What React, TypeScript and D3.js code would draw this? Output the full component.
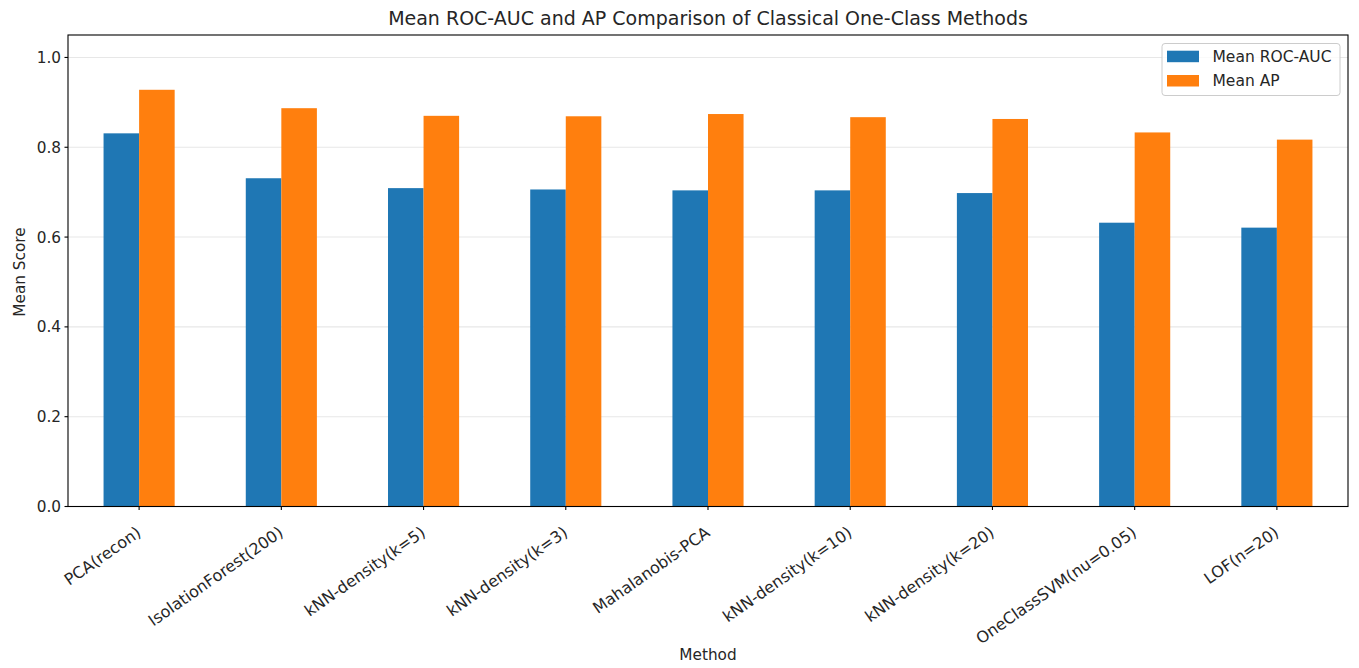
import React from "react";
import * as d3 from "d3";

const methods = [
  "PCA(recon)",
  "IsolationForest(200)",
  "kNN-density(k=5)",
  "kNN-density(k=3)",
  "Mahalanobis-PCA",
  "kNN-density(k=10)",
  "kNN-density(k=20)",
  "OneClassSVM(nu=0.05)",
  "LOF(n=20)",
];
const meanRocAuc = [0.831, 0.731, 0.709, 0.706, 0.704, 0.704, 0.698, 0.632, 0.621];
const meanAp = [0.928, 0.887, 0.870, 0.869, 0.874, 0.867, 0.863, 0.833, 0.817];
const yTicks = [0, 0.2, 0.4, 0.6, 0.8, 1.0];
const seriesNames = ["Mean ROC-AUC", "Mean AP"];
const seriesColors = ["#1f77b4", "#ff7f0e"];

const W = 1359;
const H = 668;
const left = 68;
const right = 1348;
const top = 35;
const bottom = 506.5;
const FONT = "'DejaVu Sans', sans-serif";
const TXT = "#262626";

export default function App() {
  const x = d3.scaleLinear().domain([-0.5, methods.length - 0.5]).range([left, right]);
  const y = d3.scaleLinear().domain([0, 1.05]).range([bottom, top]);
  const series = [meanRocAuc, meanAp];
  const bw = 0.25;

  return (
    <svg width={W} height={H} style={{ position: "absolute", left: 0, top: 0, background: "#fff" }} fontFamily={FONT}>
      <rect x={0} y={0} width={W} height={H} fill="#fff" />
      {/* grid */}
      {yTicks.map((t) => (
        <line key={"g" + t} x1={left} x2={right} y1={y(t)} y2={y(t)} stroke="#b0b0b0" strokeOpacity={0.3} strokeWidth={1.1} />
      ))}
      {/* bars */}
      {series.map((vals, si) =>
        vals.map((v, i) => {
          const x0 = x(i - bw + si * bw);
          const x1 = x(i + si * bw);
          return (
            <rect
              key={si + "-" + i}
              x={x0}
              y={y(v)}
              width={x1 - x0}
              height={y(0) - y(v)}
              fill={seriesColors[si]}
            />
          );
        })
      )}
      {/* spines */}
      <rect x={left} y={top} width={right - left} height={bottom - top} fill="none" stroke="#000" strokeWidth={1.1} />
      {/* y ticks */}
      {yTicks.map((t) => (
        <g key={"y" + t}>
          <line x1={left - 3.5} x2={left} y1={y(t)} y2={y(t)} stroke="#000" strokeWidth={1.1} />
          <text x={left - 7} y={y(t)} dy="0.36em" textAnchor="end" fontSize={15.3} fill={TXT}>
            {t.toFixed(1)}
          </text>
        </g>
      ))}
      {/* x ticks */}
      {methods.map((m, i) => {
        const tx = x(i);
        const ax = tx + 3;
        const ay = 535;
        return (
          <g key={"x" + i}>
            <line x1={tx} x2={tx} y1={bottom} y2={bottom + 3.5} stroke="#000" strokeWidth={1.1} />
            <text
              x={ax}
              y={ay}
              textAnchor="end"
              fontSize={16}
              fill={TXT}
              transform={`rotate(-35 ${ax} ${ay})`}
            >
              {m}
            </text>
          </g>
        );
      })}
      {/* labels */}
      <text x={(left + right) / 2} y={659.5} textAnchor="middle" fontSize={15.3} fill={TXT}>
        Method
      </text>
      <text
        x={0}
        y={0}
        textAnchor="middle"
        fontSize={15.3}
        fill={TXT}
        transform={`translate(24.5 272) rotate(-90)`}
      >
        Mean Score
      </text>
      <text x={(left + right) / 2} y={25} textAnchor="middle" fontSize={19} fill={TXT}>
        Mean ROC-AUC and AP Comparison of Classical One-Class Methods
      </text>
      {/* legend */}
      <g>
        <rect x={1162} y={43.5} width={178} height={52} rx={3} fill="#fff" fillOpacity={0.8} stroke="#cccccc" strokeWidth={1} />
        {seriesNames.map((n, i) => (
          <g key={n}>
            <rect x={1167} y={50.7 + i * 24.3} width={32} height={11.5} fill={seriesColors[i]} />
            <text x={1212.5} y={56.5 + i * 24.3} dy="0.36em" fontSize={15.5} fill={TXT}>
              {n}
            </text>
          </g>
        ))}
      </g>
    </svg>
  );
}
